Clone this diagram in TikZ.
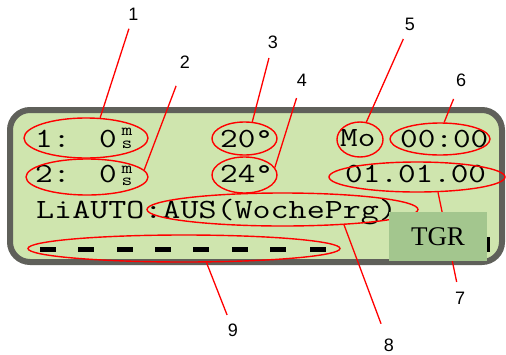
\documentclass[tikz,border=0pt]{standalone}
\usepackage{fontspec}
\setmainfont{Liberation Serif}
\newfontfamily\lcdfont[FakeStretch=1.23]{Latin Modern Mono}
\newfontfamily\lcdwide[FakeStretch=1.26]{Latin Modern Mono}
\newfontfamily\labelfont{Liberation Sans}
\usetikzlibrary{shapes.geometric}

\definecolor{lcdgreen}{HTML}{CFE5AE}
\definecolor{keygreen}{HTML}{A3C68E}
\definecolor{frame}{HTML}{5F605A}

\begin{document}
\begin{tikzpicture}[x=1pt,y=-1pt,
  lcdtext/.style={inner sep=0pt,anchor=base west,font=\lcdfont\fontsize{27.8}{27.8}\selectfont},
  unittext/.style={inner sep=0pt,anchor=base,align=center,font=\lcdfont\fontsize{17}{12.5}\selectfont},
  ring/.style={draw=red,line width=1.4pt,ellipse,inner sep=0pt},
  callout/.style={draw=red,line width=1.3pt},
  numlabel/.style={inner sep=0pt,font=\labelfont\fontsize{18}{18}\selectfont},
  dashbar/.style={fill=black}
]
\useasboundingbox (0,0) rectangle (506,354);

% display panel
\draw[frame,line width=6pt,fill=lcdgreen,rounded corners=20pt] (10,110) rectangle (502,262);

% first row
\node[lcdtext] (r1a) at (35,147) {1:};
\node[lcdtext] (r1b) at (99,147) {0};
\node[unittext] (r1u) at (127,148) {m\\s};
\node[lcdtext] (t1) at (220,147) {20°};
\node[lcdtext] (day) at (340,146) {Mo};
\node[lcdtext] (clock) at (400,147) {00:00};

% second row
\node[lcdtext] (r2a) at (35,182) {2:};
\node[lcdtext] (r2b) at (99,182) {0};
\node[unittext] (r2u) at (127,185.5) {m\\s};
\node[lcdtext] (t2) at (220,182) {24°};
\node[lcdtext] (date) at (345,182) {01.01.00};

% third row
\node[lcdtext,font=\lcdwide\fontsize{27.8}{27.8}\selectfont] (mode) at (36,218) {LiAUTO:AUS(WochePrg)};

% fourth row: dash segments
\foreach \x in {40,78,117,155,193,232,270,310}
  \fill[dashbar] (\x,247) rectangle ++(16,5);
\fill[dashbar] (486,237) rectangle (490,252);

% highlight rings
\node[ring,minimum width=124pt,minimum height=40pt] (e1) at (86,138) {};
\node[ring,minimum width=122pt,minimum height=36pt] (e2) at (87,177) {};
\node[ring,minimum width=65pt,minimum height=33pt] (e3) at (244.5,138.5) {};
\node[ring,minimum width=65pt,minimum height=36pt] (e4) at (244.5,175) {};
\node[ring,minimum width=46pt,minimum height=35pt] (e5) at (360,139.5) {};
\node[ring,minimum width=100pt,minimum height=32pt] (e6) at (440,139) {};
\node[ring,minimum width=176pt,minimum height=30pt] (e7) at (417,177) {};
\node[ring,minimum width=271pt,minimum height=33pt] (e8) at (282.5,209.5) {};
\node[ring,minimum width=312pt,minimum height=27pt] (e9) at (184,248.5) {};

% number labels
\node[numlabel] (l1) at (133.5,14.5) {1};
\node[numlabel] (l2) at (185,62.5) {2};
\node[numlabel] (l3) at (273,42.5) {3};
\node[numlabel] (l4) at (302,80.5) {4};
\node[numlabel] (l5) at (410,24) {5};
\node[numlabel] (l6) at (461,80.5) {6};
\node[numlabel] (l7) at (460,298) {7};
\node[numlabel] (l8) at (389,345) {8};
\node[numlabel] (l9) at (233,330) {9};

% callout lines
\draw[callout,shorten <=15pt] (l1.center) -- (e1.55);
\draw[callout,shorten <=25pt] (l2.center) -- (e2.7);
\draw[callout,shorten <=16pt] (l3.center) -- (e3.65);
\draw[callout,shorten <=18.4pt] (l4.center) -- (e4.14);
\draw[callout,shorten <=16.4pt] (l5.center) -- (e5.70);
\draw[callout,shorten <=19.9pt] (l6.center) -- (e6.76);
\draw[callout,shorten <=16.4pt] (l7.center) -- (e7.-36);
\draw[callout,shorten <=22.7pt] (l8.center) -- (e8.-14.5);
\draw[callout,shorten <=16.2pt] (l9.center) -- (e9.-32.5);

% key overlay
\node[fill=keygreen,minimum width=98pt,minimum height=49pt,inner sep=0pt,
      font=\fontsize{27}{27}\selectfont] (tgr) at (438,236.5) {TGR\hspace{6pt}};
\end{tikzpicture}
\end{document}
